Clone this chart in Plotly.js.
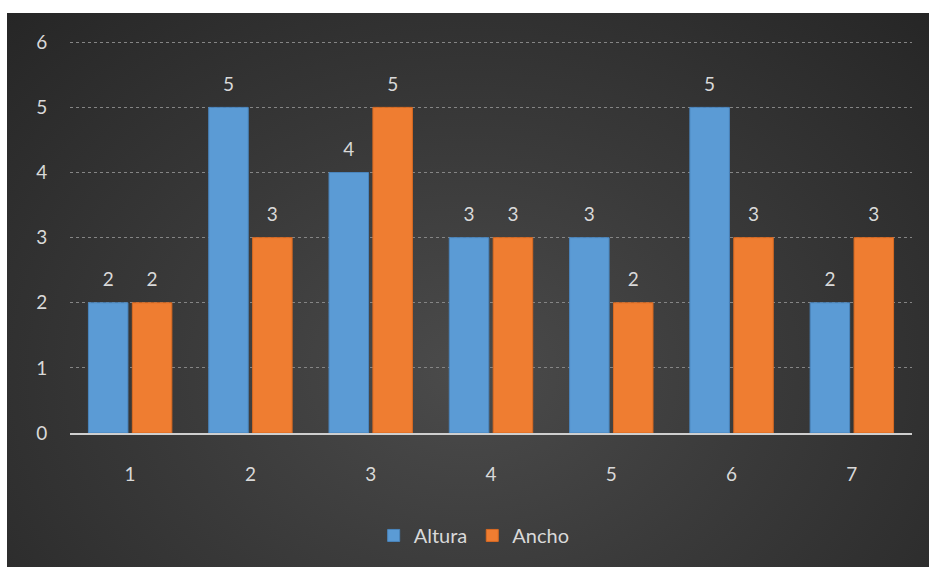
<!DOCTYPE html>
<html>
<head>
<meta charset="utf-8">
<script src="https://cdn.plot.ly/plotly-3.0.1.min.js"></script>
<style>
  html, body { margin: 0; padding: 0; background: #ffffff; }
  #bg { position: absolute; left: 7px; top: 13px; width: 922px; height: 554px;
        background: radial-gradient(ellipse at 50% 65%, #4b4b4b 0%, #3a3a3a 45%, #262626 100%); }
  #chart { position: absolute; left: 0; top: 0; width: 930px; height: 567px; }
</style>
</head>
<body>
<div id="bg"></div>
<div id="chart"></div>
<script>
const categories = ['1', '2', '3', '4', '5', '6', '7'];
const altura = [2, 5, 4, 3, 3, 5, 2];
const ancho = [2, 3, 5, 3, 2, 3, 3];
const seriesNames = ['Altura', 'Ancho'];
const yTicks = [0, 1, 2, 3, 4, 5, 6];

const textColor = '#d9d9d9';
const labelTemplate = '<span style="font-size:19px">%{y}</span><br> ';

const traces = [
  {
    type: 'bar', name: seriesNames[0], x: categories, y: altura,
    marker: { color: '#5b9bd5', line: { color: '#4a85bd', width: 1 } },
    texttemplate: labelTemplate, textposition: 'outside', cliponaxis: false,
    textfont: { color: textColor, size: 9, family: 'Lato, sans-serif' },
    hoverinfo: 'x+y'
  },
  {
    type: 'bar', name: seriesNames[1], x: categories, y: ancho,
    marker: { color: '#ef7d31', line: { color: '#d86a22', width: 1 } },
    texttemplate: labelTemplate, textposition: 'outside', cliponaxis: false,
    textfont: { color: textColor, size: 9, family: 'Lato, sans-serif' },
    hoverinfo: 'x+y'
  }
];

const layout = {
  width: 930, height: 567,
  margin: { l: 70, r: 18, t: 39, b: 132 },
  paper_bgcolor: 'rgba(0,0,0,0)',
  plot_bgcolor: 'rgba(0,0,0,0)',
  font: { family: 'Lato, sans-serif', color: textColor, size: 19 },
  barmode: 'group',
  bargap: 0.27,
  bargroupgap: 0.1,
  showlegend: true,
  legend: {
    orientation: 'h', x: 0.48, xanchor: 'center', y: -0.26, yanchor: 'middle',
    font: { size: 20, color: textColor }, itemclick: false, traceorder: 'normal'
  },
  xaxis: {
    type: 'category', showgrid: false, zeroline: false,
    showline: true, linecolor: '#cfcfcf', linewidth: 2,
    ticks: 'outside', ticklen: 23, tickcolor: 'rgba(0,0,0,0)',
    tickfont: { size: 19, color: textColor }
  },
  yaxis: {
    range: [0, 6.05], tickvals: yTicks, zeroline: false,
    showgrid: true, gridcolor: '#858585', griddash: 'dot', gridwidth: 1,
    ticks: 'outside', ticklen: 18, tickcolor: 'rgba(0,0,0,0)',
    tickfont: { size: 19, color: textColor }
  }
};

Plotly.newPlot('chart', traces, layout, { displayModeBar: false, staticPlot: true });
</script>
</body>
</html>
